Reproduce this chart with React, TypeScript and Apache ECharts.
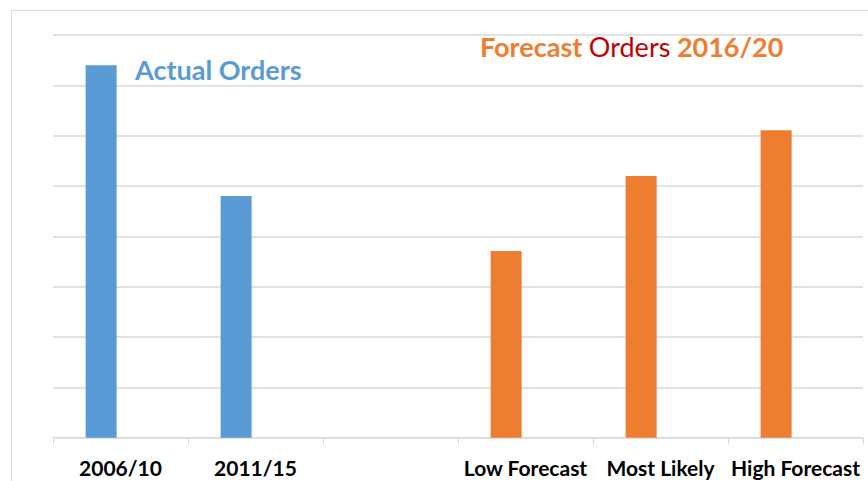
import React, { useEffect, useRef } from "react";
import * as echarts from "echarts";

const categories = ["2006/10", "2011/15", "", "Low Forecast", "Most Likely", "High Forecast"];
const actualOrders: (number | null)[] = [7.4, 4.8, null, null, null, null];
const forecastOrders: (number | null)[] = [null, null, null, 3.71, 5.2, 6.11];
const yTicks = { min: 0, max: 8, interval: 1 };

const BLUE = "#5B9BD5";
const ORANGE = "#ED7D31";
const DARKRED = "#C00000";
const GRID = "#D9D9D9";
const FONT = "Lato";

export default function App() {
  const ref = useRef<HTMLDivElement>(null);
  useEffect(() => {
    if (!ref.current) return;
    const chart = echarts.init(ref.current, undefined, { renderer: "svg" });
    const barData = categories.map((_, i) => {
      if (actualOrders[i] != null) return { value: actualOrders[i], itemStyle: { color: BLUE } };
      if (forecastOrders[i] != null) return { value: forecastOrders[i], itemStyle: { color: ORANGE } };
      return "-";
    });
    chart.setOption({
      animation: false,
      backgroundColor: "#fff",
      grid: { left: 53, right: 5, top: 35, bottom: 43.3, containLabel: false },
      title: [
        {
          text: "Actual Orders",
          left: 135,
          top: 56,
          padding: 0,
          textStyle: { color: BLUE, fontFamily: FONT, fontWeight: "bold", fontSize: 27 },
        },
        {
          text: "{a|Forecast} {b|Orders} {a|2016/20}",
          left: 480,
          top: 33,
          padding: 0,
          textStyle: {
            fontFamily: FONT,
            fontSize: 27,
            rich: {
              a: { color: ORANGE, fontFamily: FONT, fontWeight: "bold", fontSize: 27 },
              b: { color: DARKRED, fontFamily: FONT, fontWeight: "normal", fontSize: 27 },
            },
          },
        },
      ],
      graphic: [
        {
          type: "rect",
          shape: { x: 11.5, y: 10.5, width: 900, height: 500 },
          style: { fill: "none", stroke: GRID, lineWidth: 1 },
          z: -1,
          silent: true,
        },
      ],
      xAxis: {
        type: "category",
        data: categories,
        axisLine: { show: true, lineStyle: { color: GRID, width: 1 } },
        axisTick: { show: true, length: 7, alignWithLabel: false, lineStyle: { color: GRID } },
        axisLabel: {
          interval: 0,
          color: "#000",
          fontFamily: FONT,
          fontWeight: "bold",
          fontSize: 21,
          margin: 19,
        },
        splitLine: { show: false },
      },
      yAxis: {
        type: "value",
        min: yTicks.min,
        max: yTicks.max,
        interval: yTicks.interval,
        axisLabel: { show: false },
        axisLine: { show: false },
        axisTick: { show: false },
        splitLine: { show: true, lineStyle: { color: GRID, width: 1.5 } },
      },
      series: [
        {
          type: "bar",
          name: "Orders",
          data: barData,
          barWidth: 31,
          barGap: "25%",
        },
        {
          type: "bar",
          name: "placeholder",
          data: categories.map(() => "-"),
          barWidth: 31,
          barGap: "25%",
        },
      ],
    });
    return () => chart.dispose();
  }, []);
  return (
    <div
      ref={ref}
      style={{ position: "fixed", left: 0, top: 0, width: 868, height: 481, background: "#fff" }}
    />
  );
}
